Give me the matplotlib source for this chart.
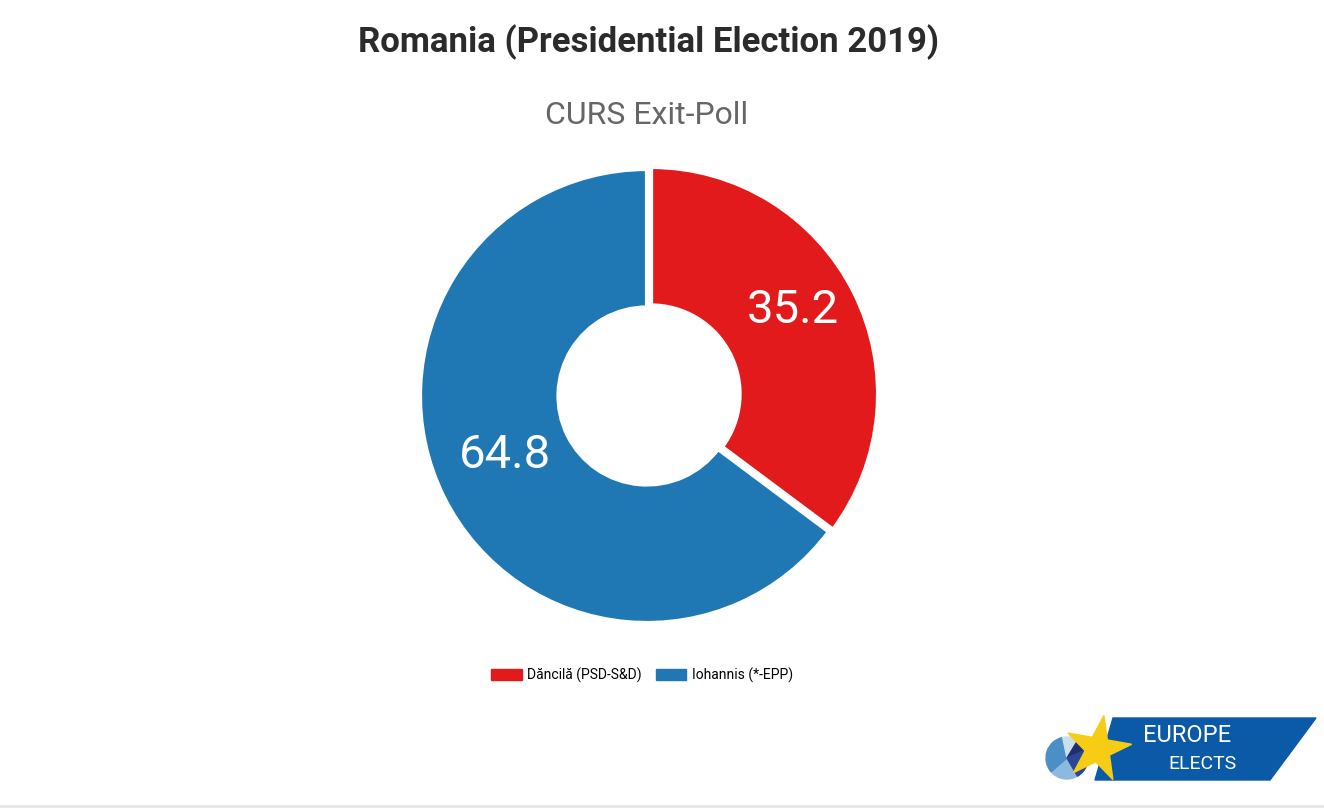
"""Romania presidential election 2019 - CURS exit poll donut"""

#%% packages
import numpy as np
import matplotlib
matplotlib.use('Agg')
import matplotlib.pyplot as plt
from matplotlib.patches import Polygon, Wedge
import matplotlib.patches as mpatches

plt.rcParams['font.family'] = ['Roboto', 'DejaVu Sans']

#%% data
candidates = ['Dăncilă (PSD-S&D)', 'Iohannis (*-EPP)']
shares = [35.2, 64.8]
colors = ['#e31a1c', '#1f78b4']

W, H = 1324, 810

#%% figure
fig = plt.figure(figsize=(W / 100, H / 100), dpi=100)
fig.patch.set_facecolor('white')

cx, cy, R = 647, 396, 227
size = 2.2 * R
ax = fig.add_axes([(cx - size / 2) / W, (H - cy - size / 2) / H, size / W, size / H])
wedges, texts, autotexts = ax.pie(shares, colors=colors, startangle=90, counterclock=False,
                                  explode=[0.02, 0], autopct='%.1f', pctdistance=0.7,
                                  wedgeprops=dict(width=0.61, edgecolor='white', linewidth=3),
                                  textprops=dict(color='white', fontsize=34))
# nudge labels up a little, as in the original
for t in autotexts:
    x, y = t.get_position()
    t.set_position((x, y + 0.055))
ax.set_xlim(-1.1, 1.1)
ax.set_ylim(-1.1, 1.1)
ax.set_aspect('equal')
ax.axis('off')

fig.text(648 / W, 1 - 42 / H, 'Romania (Presidential Election 2019)', ha='center', va='center',
         fontsize=25, fontweight='bold', color='#2b2b2b')
fig.text(647 / W, 1 - 115 / H, 'CURS Exit-Poll', ha='center', va='center',
         fontsize=23, color='#666666')

handles = [mpatches.Patch(color=c) for c in colors]
fig.legend(handles, candidates, loc='center', bbox_to_anchor=(642 / W, 1 - 675 / H), ncol=2,
           frameon=False, fontsize=10, handlelength=2.2, handleheight=0.9,
           columnspacing=1.0, handletextpad=0.4)

#%% logo + bottom rule (pixel coords)
lax = fig.add_axes([0, 0, 1, 1], zorder=-1)
lax.set_xlim(0, W)
lax.set_ylim(H, 0)
lax.axis('off')
lax.add_patch(Polygon([(1113, 718), (1316, 718), (1270, 780), (1095, 780)], closed=True,
                      color='#0a5aa8'))
pie_cols = ['#8db9df', '#4b8fc6', '#c9dff0', '#1d2f6e', '#2d4596']
pie_fr = [0.22, 0.33, 0.12, 0.1, 0.23]
a0 = 60
for f, c in zip(pie_fr, pie_cols):
    lax.add_patch(Wedge((1067, 758), 21, a0, a0 + f * 360, color=c))
    a0 += f * 360
star = []
for k in range(10):
    r = 34 if k % 2 == 0 else 13
    ang = np.deg2rad(-90 + 36 * k + 10)
    star.append((1098 + r * np.cos(ang), 749 + r * np.sin(ang)))
lax.add_patch(Polygon(star, closed=True, color='#f7cc15'))
lax.text(1187, 736, 'EUROPE', color='white', fontsize=17, ha='center', va='center')
lax.text(1202, 764, 'ELECTS', color='white', fontsize=14, ha='center', va='center')
lax.plot([0, W], [806, 806], color='#e6e6e6', lw=2)

plt.savefig('out.png', dpi=100)
